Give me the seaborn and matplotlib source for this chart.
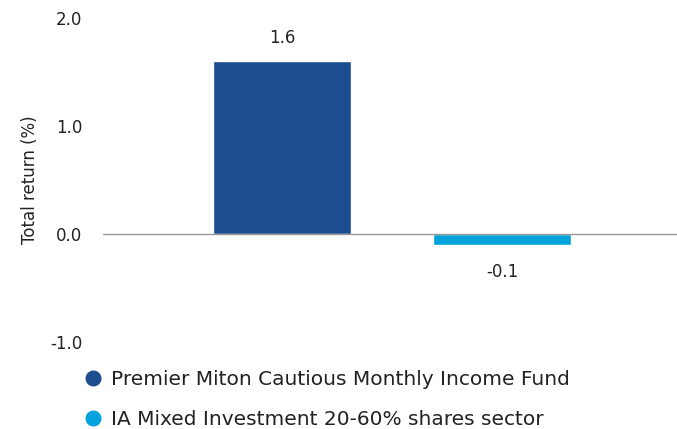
import matplotlib
matplotlib.use("Agg")
import matplotlib.pyplot as plt
from matplotlib.lines import Line2D
import seaborn as sns
import pandas as pd

categories = ["Premier Miton Cautious Monthly Income Fund",
              "IA Mixed Investment 20-60% shares sector"]
values = [1.6, -0.1]
labels = ["1.6", "-0.1"]
colors = ["#1c4e8f", "#05a3dc"]
yticks = [-1.0, 0.0, 1.0, 2.0]

sns.set_theme(style="white")
plt.rcParams["font.family"] = ["DejaVu Sans"]

fig = plt.figure(figsize=(6.77, 4.29), dpi=100)
ax = fig.add_axes([103/677, (429-342)/429, (677-103)/677, (342-18)/429])

df = pd.DataFrame({"cat": categories, "val": values})
sns.barplot(data=df, x="cat", y="val", hue="cat", palette=colors,
            width=0.627, ax=ax, legend=False, saturation=1)

ax.set_ylim(-1.0, 2.0)
ax.set_xlim(-0.814, 1.795)
ax.set_yticks(yticks)
ax.set_yticklabels([f"{t:.1f}" for t in yticks], fontsize=12, color="#222222")
ax.set_xticks([])
ax.set_xlabel("")
ax.set_ylabel("Total return (%)", fontsize=12, color="#222222", labelpad=8)
ax.tick_params(axis="y", length=0, pad=15)
for s in ax.spines.values():
    s.set_visible(False)
ax.axhline(0, color="#999999", lw=1)

for i, (v, lab) in enumerate(zip(values, labels)):
    if v >= 0:
        ax.annotate(lab, (i, v), xytext=(0, 10), textcoords="offset points",
                    ha="center", va="bottom", fontsize=12, color="#222222")
    else:
        ax.annotate(lab, (i, v), xytext=(0, -13), textcoords="offset points",
                    ha="center", va="top", fontsize=12, color="#222222")

handles = [Line2D([0], [0], marker="o", color="none", markerfacecolor=c,
                  markeredgecolor=c, markersize=10.5) for c in colors]
fig.legend(handles, categories, loc="upper left", bbox_to_anchor=(69/677, 1 - 356/429),
           frameon=False, fontsize=14.5, handletextpad=0.4, labelspacing=1.02,
           handlelength=1.0, labelcolor="#222222", borderpad=0.2)

fig.savefig("out.png", dpi=100)
